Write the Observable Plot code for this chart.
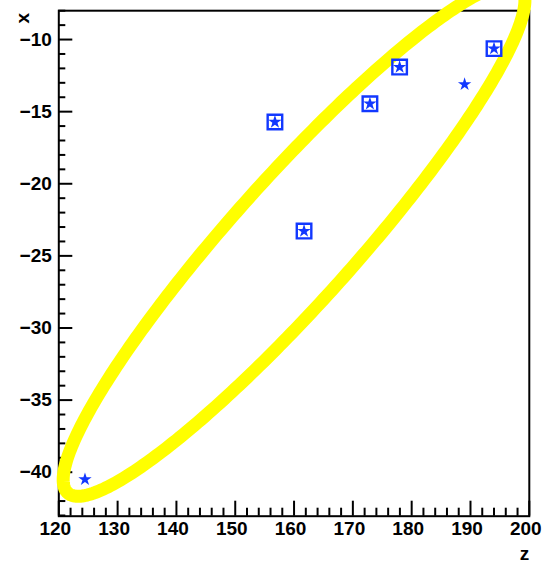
<!DOCTYPE html>
<html>
<head>
<meta charset="utf-8">
<script src="https://cdn.jsdelivr.net/npm/d3@7"></script>
<script src="https://cdn.jsdelivr.net/npm/@observablehq/plot@0.6"></script>
<style>
  html, body { margin: 0; padding: 0; background: white; }
  #chart { width: 545px; height: 563px; overflow: hidden; }
</style>
</head>
<body>
<div id="chart"></div>
<script>
// ---- data ----
const zValues = [124.45, 156.75, 161.7, 172.9, 177.95, 189.0, 194.0];
const xValues = [-40.5, -15.72, -23.28, -14.45, -11.91, -13.11, -10.63];
const boxedZ = [156.75, 161.7, 172.9, 177.95, 194.0];
const boxedX = [-15.72, -23.28, -14.45, -11.91, -10.63];

// ellipse parameters (user coordinates, like ROOT TEllipse)
const ellipseCenter = [160, -23.9];
const ellipseRadii = [42.7, 5.78];
const ellipseTheta = 23.4;

// axis ticks
const xMajor = [120, 130, 140, 150, 160, 170, 180, 190, 200];
const xMinor = [122, 124, 126, 128, 132, 134, 136, 138, 142, 144, 146, 148, 152, 154, 156, 158,
                162, 164, 166, 168, 172, 174, 176, 178, 182, 184, 186, 188, 192, 194, 196, 198];
const yMajor = [-40, -35, -30, -25, -20, -15, -10];
const yMinor = [-43, -42, -41, -39, -38, -37, -36, -34, -33, -32, -31, -29, -28, -27, -26,
                -24, -23, -22, -21, -19, -18, -17, -16, -14, -13, -12, -11, -9, -8];
const xTitle = "z";
const yTitle = "x";

// ---- build tables ----
const points = zValues.map((z, i) => ({z, x: xValues[i]}));
const boxed = boxedZ.map((z, i) => ({z, x: boxedX[i]}));
const ct = Math.cos(ellipseTheta * Math.PI / 180), st = Math.sin(ellipseTheta * Math.PI / 180);
const ellipse = d3.range(0, 361, 1).map(a => {
  const t = a * Math.PI / 180;
  const dx = ellipseRadii[0] * Math.cos(t), dy = ellipseRadii[1] * Math.sin(t);
  return {z: ellipseCenter[0] + dx * ct - dy * st, x: ellipseCenter[1] + dx * st + dy * ct};
});

const W = 545, H = 563;
const mL = 58.3, mR = 16.2, mT = 10.2, mB = 47.3;
const FW = W - mL - mR, FH = H - mT - mB;
const blue = "#1238ff";

const chart = Plot.plot({
  width: W, height: H,
  marginLeft: mL, marginRight: mR, marginTop: mT, marginBottom: mB,
  x: {domain: [120, 200]},
  y: {domain: [-43.05, -8]},
  style: {fontFamily: "'Liberation Sans', Arial, sans-serif", fontSize: "19px", fontWeight: "bold",
          background: "white", color: "black", overflow: "visible"},
  marks: [
    Plot.tickY(yMinor, {y: d => d, insetRight: FW - 7, stroke: "black", strokeWidth: 2}),
    Plot.tickY(yMajor, {y: d => d, insetRight: FW - 14, stroke: "black", strokeWidth: 2}),
    Plot.tickX(xMinor, {x: d => d, insetTop: FH - 8, stroke: "black", strokeWidth: 2}),
    Plot.tickX(xMajor, {x: d => d, insetTop: FH - 15, stroke: "black", strokeWidth: 2}),
    Plot.frame({stroke: "black", strokeWidth: 2}),
    Plot.axisX(xMajor, {tickSize: 0, tickPadding: 5, dx: -3.5, label: null}),
    Plot.axisY(yMajor, {tickSize: 0, tickPadding: 7, label: null}),
    Plot.line(ellipse, {x: "z", y: "x", stroke: "#ffff00", strokeWidth: 13, strokeLinejoin: "round"}),
    Plot.dot(boxed, {x: "z", y: "x", symbol: "square", r: 8.2, stroke: blue, strokeWidth: 2.4, fill: "none"}),
    Plot.dot(points, {x: "z", y: "x", symbol: "star", r: 4.2, fill: blue, stroke: "none"}),
    Plot.text([yTitle], {text: d => d, frameAnchor: "top-left", dx: -43, dy: 2.3, rotate: -90, textAnchor: "end"}),
    Plot.text([xTitle], {text: d => d, frameAnchor: "bottom-right", dx: 0, dy: 43.3, textAnchor: "end"})
  ]
});
document.getElementById("chart").appendChild(chart);
</script>
</body>
</html>
